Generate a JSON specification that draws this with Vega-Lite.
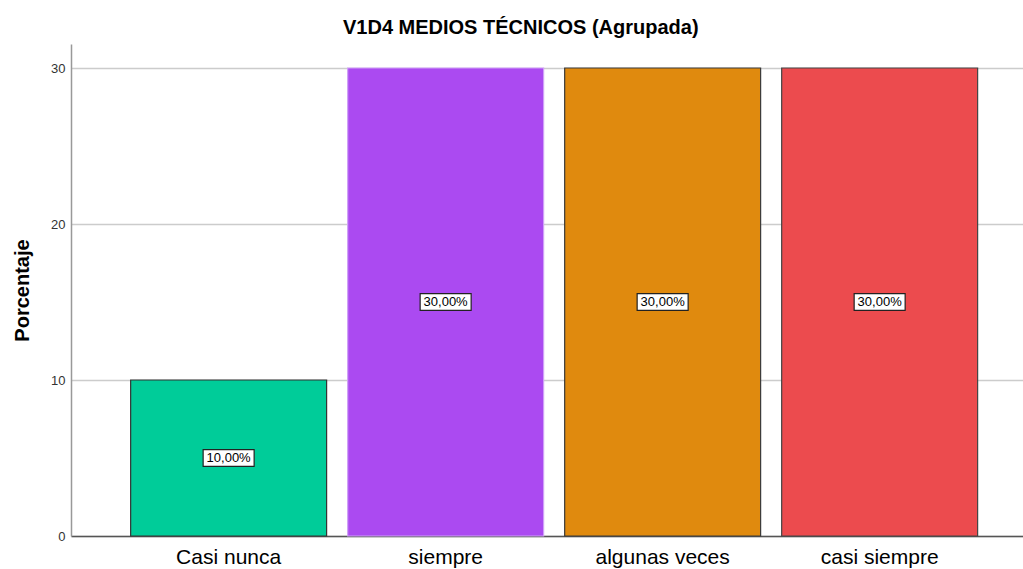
{
  "$schema": "https://vega.github.io/schema/vega-lite/v6.json",
  "autosize": "none",
  "width": 952,
  "height": 492,
  "padding": {"left": 71, "top": 44, "right": 0, "bottom": 33},
  "background": "white",
  "title": {
    "text": "V1D4 MEDIOS TÉCNICOS (Agrupada)",
    "font": "Liberation Sans",
    "fontSize": 20,
    "fontWeight": "bold",
    "color": "#000000",
    "anchor": "middle",
    "frame": "bounds",
    "dx": 3,
    "offset": 6
  },
  "data": {
    "values": [
      {"cat": "Casi nunca", "pct": 10, "label": "10,00%"},
      {"cat": "siempre", "pct": 30, "label": "30,00%"},
      {"cat": "algunas veces", "pct": 30, "label": "30,00%"},
      {"cat": "casi siempre", "pct": 30, "label": "30,00%"}
    ]
  },
  "config": {
    "view": {"stroke": null},
    "axis": {"labelFont": "Liberation Sans", "titleFont": "Liberation Sans"}
  },
  "encoding": {
    "x": {
      "field": "cat",
      "type": "nominal",
      "sort": null,
      "scale": {"paddingInner": 0.097, "paddingOuter": 0.242, "align": 0.568},
      "axis": {
        "title": null,
        "labelAngle": 0,
        "labelFontSize": 21,
        "labelColor": "#000000",
        "labelPadding": 10,
        "ticks": false,
        "domainColor": "#555555",
        "domainWidth": 1.5
      }
    }
  },
  "layer": [
    {
      "mark": {"type": "bar", "strokeWidth": 1.2},
      "encoding": {
        "y": {
          "field": "pct",
          "type": "quantitative",
          "scale": {"domain": [0, 31.54], "nice": false},
          "axis": {
            "title": "Porcentaje",
            "titleFontSize": 20,
            "titleFontWeight": "bold",
            "titleColor": "#000000",
            "titlePadding": 18,
            "values": [0, 10, 20, 30],
            "labelFontSize": 13,
            "labelColor": "#333333",
            "labelPadding": 6,
            "ticks": false,
            "grid": true,
            "gridColor": "#cccccc",
            "gridWidth": 1.5,
            "domainColor": "#999999",
            "domainWidth": 1.5
          }
        },
        "fill": {
          "field": "cat",
          "type": "nominal",
          "sort": null,
          "scale": {"range": ["#00CC99", "#AB4AF1", "#E08A0E", "#EC4B4E"]},
          "legend": null
        },
        "stroke": {
          "field": "cat",
          "type": "nominal",
          "sort": null,
          "scale": {"range": ["#333333", "#CFA0F7", "#3a3a3a", "#444444"]},
          "legend": null
        }
      }
    },
    {
      "transform": [{"calculate": "datum.pct / 2", "as": "mid"}],
      "mark": {
        "type": "point",
        "shape": "M-1,-0.33L1,-0.33L1,0.33L-1,0.33Z",
        "size": 2601,
        "filled": true,
        "fill": "white",
        "stroke": "#222222",
        "strokeWidth": 1.2,
        "opacity": 1
      },
      "encoding": {
        "y": {"field": "mid", "type": "quantitative"}
      }
    },
    {
      "transform": [{"calculate": "datum.pct / 2", "as": "mid"}],
      "mark": {
        "type": "text",
        "font": "Liberation Sans",
        "fontSize": 13,
        "color": "#000000",
        "baseline": "middle",
        "align": "center"
      },
      "encoding": {
        "y": {"field": "mid", "type": "quantitative"},
        "text": {"field": "label"}
      }
    }
  ]
}
